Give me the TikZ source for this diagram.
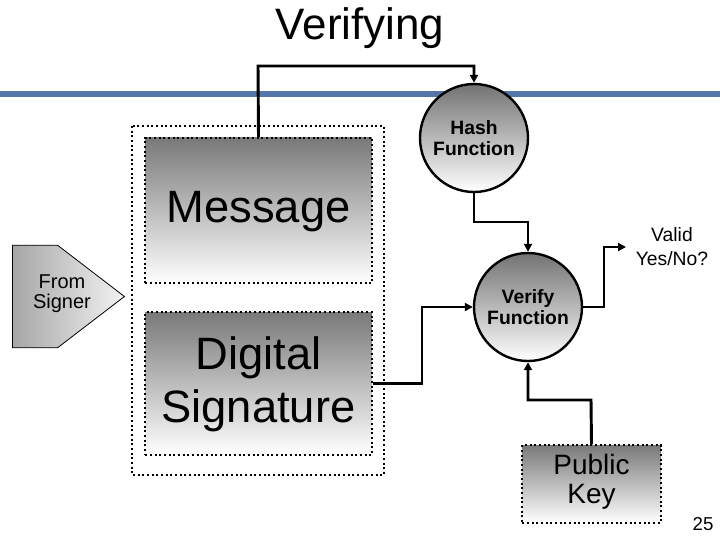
\documentclass[tikz,border=0pt]{standalone}
\usepackage{fontspec}
\setmainfont{Liberation Sans}
\usetikzlibrary{shapes.arrows,arrows.meta}
\begin{document}
\begin{tikzpicture}[x=0.75pt,y=-0.75pt,
  box/.style={draw=black,line width=1.5pt,dotted,top color=gray!95!black,bottom color=white,shading angle=0},
  fn/.style={circle,draw=black,line width=1.8pt,top color=gray!90!black,bottom color=white,minimum size=81pt,inner sep=0pt,align=center,font=\fontsize{14.5}{16}\selectfont\bfseries},
  conn/.style={line width=2.2pt,-{Triangle[length=6pt,width=6pt]}},
  txt/.style={inner sep=0pt,align=center}]
\useasboundingbox (0,0) rectangle (720,540);
\node[txt,font=\fontsize{33}{36}\selectfont] (title) at (360,28) {Verifying};
\draw[line width=3.8pt,color={rgb,255:red,84;green,118;blue,170}] (0,94) -- (720,94);
\draw[line width=1.5pt,dotted] (132,126) rectangle (384,475);
\node[box,minimum width=170pt,minimum height=109pt,inner sep=0pt] (msg) at (258.5,210.5) {};
\node[txt,font=\fontsize{34}{38}\selectfont] at (258.5,212) {Message};
\node[box,minimum width=170pt,minimum height=107pt,inner sep=0pt] (sig) at (258.5,383.5) {};
\node[txt,font=\fontsize{34}{40}\selectfont] at (258.5,384) {Digital\\Signature};
\node[fn] (hash) at (474,138) {Hash\\Function};
\node[fn] (ver) at (528,307) {Verify\\Function};
\node[box,minimum width=104pt,minimum height=58pt,inner sep=0pt] (pk) at (591.5,484) {};
\node[txt,font=\fontsize{21}{22}\selectfont] at (591.5,482) {Public\\Key};
\node[single arrow,draw=black,line width=0.6pt,left color=gray!70,right color=gray!10,minimum height=84pt,minimum width=77pt,single arrow head extend=0pt,single arrow tip angle=75,inner sep=0pt,anchor=west] (sgn) at (12,296.5) {};
\node[txt,font=\fontsize{15}{15}\selectfont] at (62,294) {From\\Signer};
\node[txt,font=\fontsize{14.5}{18}\selectfont] (valid) at (672,247) {Valid\\Yes/No?};
\coordinate (vend) at (626,247);
\node[txt,font=\fontsize{14}{14}\selectfont] (pg) at (703,524) {25};
\draw[conn] (msg.north) -- (258,66) -- (474,66) -- (hash.north);
\draw[conn] (hash.south) -- (474,222) -- (528,222) -- (ver.north);
\draw[conn] (sig.east) -- (422,383.5) -- (422,307) -- (ver.west);
\draw[conn] (ver.east) -- (604,307) -- (604,247) -- (vend);
\draw[conn] (pk.north) -- (591,400) -- (528,400) -- (ver.south);
\end{tikzpicture}
\end{document}
